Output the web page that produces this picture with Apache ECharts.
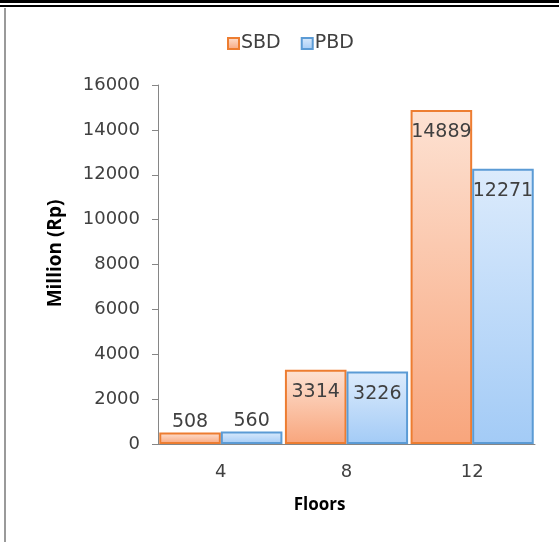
<!DOCTYPE html>
<html>
<head>
<meta charset="utf-8">
<script src="https://cdn.jsdelivr.net/npm/echarts@6/dist/echarts.min.js"></script>
<style>
  html, body { margin: 0; padding: 0; background: #ffffff; }
  #chart { width: 559px; height: 542px; }
</style>
</head>
<body>
<div id="chart"></div>
<script>
// Construction cost per building height
const floors = ['4', '8', '12'];
const sbdValues = [508, 3314, 14889];
const pbdValues = [560, 3226, 12271];
const yTicks = [0, 2000, 4000, 6000, 8000, 10000, 12000, 14000, 16000];

const textColor = '#404040';
const axisColor = '#868686';
const labelFont = 'DejaVu Sans';

function grad(top, bottom) {
  return new echarts.graphic.LinearGradient(0, 0, 0, 1, [
    { offset: 0, color: top },
    { offset: 1, color: bottom }
  ]);
}

// small bars carry their label above, taller ones inside the top edge
function withLabels(values) {
  return values.map(v => ({
    value: v,
    label: v < 2000
      ? { position: 'top', distance: 1 }
      : { position: 'insideTop', distance: 13 }
  }));
}

const chart = echarts.init(document.getElementById('chart'), null, { renderer: 'canvas' });

chart.setOption({
  animation: false,
  backgroundColor: '#ffffff',
  graphic: [
    { type: 'rect', shape: { x: 0, y: 0, width: 559, height: 3 }, style: { fill: '#000000' } },
    { type: 'rect', shape: { x: 0, y: 5, width: 559, height: 2 }, style: { fill: '#000000' } },
    { type: 'rect', shape: { x: 4, y: 8, width: 2, height: 534 }, style: { fill: '#9a9a9a' } }
  ],
  legend: {
    top: 29,
    left: 222,
    icon: 'rect',
    itemWidth: 11,
    itemHeight: 11,
    itemGap: 20,
    textStyle: { color: textColor, fontFamily: labelFont, fontSize: 19, padding: [0, 0, 0, -3] },
    data: ['SBD', 'PBD']
  },
  grid: { left: 158, right: 24, top: 85, bottom: 98, containLabel: false },
  xAxis: {
    type: 'category',
    data: floors,
    name: 'Floors',
    nameLocation: 'middle',
    nameGap: 53,
    nameTextStyle: { color: '#000000', fontWeight: 'bold', fontFamily: 'Open Sans', fontSize: 17, padding: [0, 54, 0, 0] },
    axisLine: { lineStyle: { color: axisColor, width: 1 } },
    axisTick: { show: false },
    axisLabel: { color: textColor, fontFamily: labelFont, fontSize: 18, margin: 19 }
  },
  yAxis: {
    type: 'value',
    min: yTicks[0],
    max: yTicks[yTicks.length - 1],
    interval: yTicks[1] - yTicks[0],
    name: 'Million (Rp)',
    nameLocation: 'middle',
    nameGap: 93,
    nameTextStyle: { color: '#000000', fontWeight: 'bold', fontFamily: 'Open Sans', fontSize: 19, padding: [0, 0, 0, 22] },
    axisLine: { show: true, lineStyle: { color: axisColor, width: 1 } },
    axisTick: { show: true, length: 6, lineStyle: { color: axisColor } },
    axisLabel: {
      color: textColor, fontFamily: labelFont, fontSize: 18, margin: 18,
      formatter: v => String(v)
    },
    splitLine: { show: false }
  },
  series: [
    {
      name: 'SBD',
      type: 'bar',
      data: withLabels(sbdValues),
      barGap: '0%',
      barCategoryGap: '2%',
      itemStyle: {
        color: grad('#fde2d3', '#f8a57c'),
        borderColor: '#ed7d31',
        borderWidth: 2
      },
      label: { show: true, color: textColor, fontFamily: labelFont, fontSize: 19 }
    },
    {
      name: 'PBD',
      type: 'bar',
      data: withLabels(pbdValues),
      itemStyle: {
        color: grad('#dcebfc', '#a3cbf6'),
        borderColor: '#5b9bd5',
        borderWidth: 2
      },
      label: { show: true, color: textColor, fontFamily: labelFont, fontSize: 19 }
    }
  ]
});
</script>
</body>
</html>
